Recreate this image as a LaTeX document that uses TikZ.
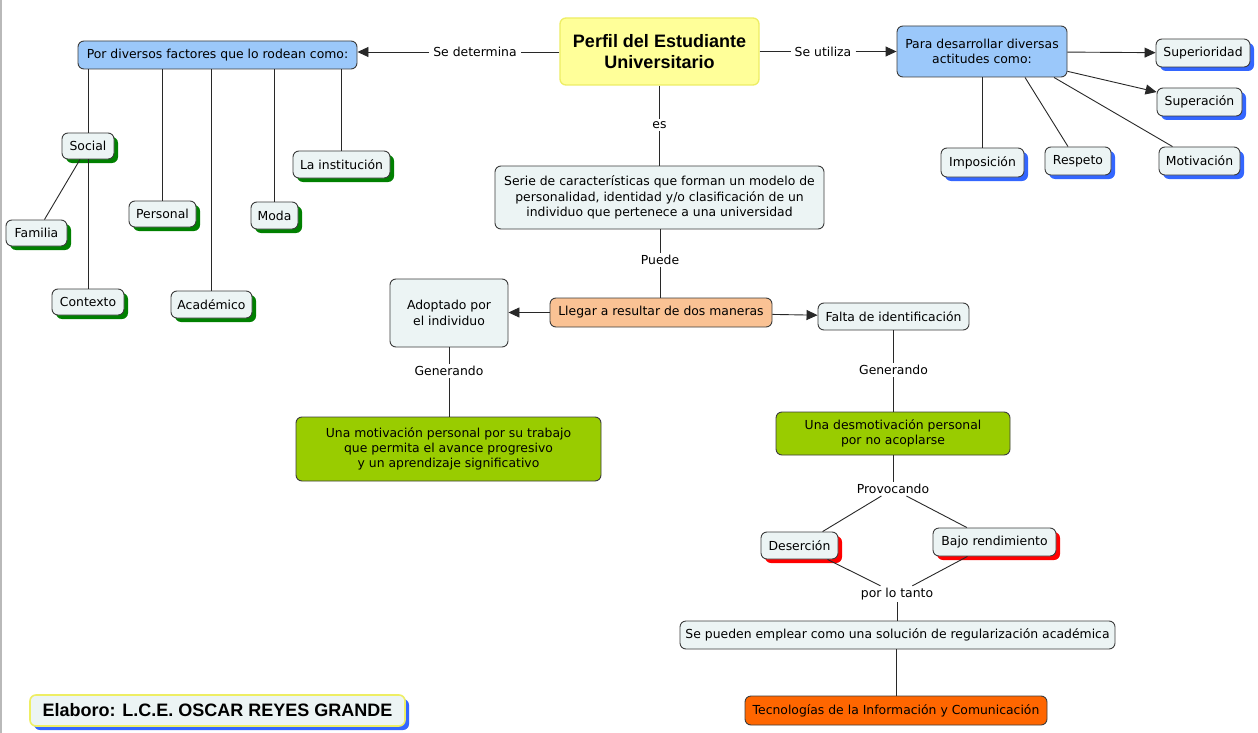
\documentclass[tikz,border=0pt]{standalone}
\usepackage{fontspec}
\setmainfont{DejaVu Sans}
\newfontfamily\titlefont{Liberation Sans}
\usetikzlibrary{arrows.meta,shadows}
\definecolor{bordc}{RGB}{60,60,60}
\definecolor{linec}{RGB}{40,40,40}
\definecolor{lightc}{RGB}{236,244,244}
\definecolor{bluec}{RGB}{155,200,250}
\definecolor{yellowc}{RGB}{255,255,153}
\definecolor{yellowb}{RGB}{238,238,100}
\definecolor{peachc}{RGB}{250,194,148}
\definecolor{greenc}{RGB}{153,204,0}
\definecolor{orangec}{RGB}{255,102,0}
\definecolor{shgreen}{RGB}{0,128,0}
\definecolor{shblue}{RGB}{51,102,255}
\definecolor{shred}{RGB}{255,0,0}
\newcommand\mynfs{\fontsize{12.4}{15.3}\selectfont}
\newcommand\mytfs{\titlefont\bfseries\fontsize{18}{21}\selectfont}
\tikzset{
  base/.style={rounded corners=6pt, line width=0.9pt, draw=bordc, inner sep=0pt, align=center, font=\mynfs, text=black},
  lightbox/.style={base, fill=lightc},
  bluebox/.style={base, fill=bluec},
  peachbox/.style={base, fill=peachc},
  greenbox/.style={base, fill=greenc},
  orangebox/.style={base, fill=orangec},
  titlebox/.style={base, fill=yellowc, draw=yellowb, line width=1.3pt, font=\mytfs},
  gshadow/.style={drop shadow={shadow xshift=4pt, shadow yshift=-4pt, fill=shgreen, opacity=1}},
  bshadow/.style={drop shadow={shadow xshift=4pt, shadow yshift=-4pt, fill=shblue, opacity=1}},
  rshadow/.style={drop shadow={shadow xshift=4pt, shadow yshift=-4pt, fill=shred, opacity=1}},
  lbl/.style={fill=white, inner xsep=4pt, inner ysep=2pt, font=\mynfs},
  conn/.style={draw=linec, line width=0.9pt},
  arr/.style={conn, -{Triangle[length=11pt,width=10pt]}}
}
\begin{document}
\begin{tikzpicture}[x=1pt,y=-1pt]
\useasboundingbox (0,0) rectangle (1258,733);
\fill[white] (0,0) rectangle (1258,733);
\draw[gray!55, line width=1.5pt] (1,0) -- (1,733);

% main nodes
\node[titlebox, minimum width=199pt, minimum height=67pt] (title) at (659.5,51.5) {Perfil del Estudiante\\Universitario};
\node[bluebox, minimum width=279pt, minimum height=28pt] (por) at (217.5,55) {Por diversos factores que lo rodean como:};
\node[bluebox, minimum width=170pt, minimum height=51pt] (para) at (982,51.5) {Para desarrollar diversas\\actitudes como:};

% right side
\node[lightbox, bshadow, minimum width=94pt, minimum height=28pt] (sup1) at (1203,53) {Superioridad};
\node[lightbox, bshadow, minimum width=85pt, minimum height=28pt] (sup2) at (1199.5,102) {Superación};
\node[lightbox, bshadow, minimum width=83pt, minimum height=29pt] (impo) at (982.5,162.5) {Imposición};
\node[lightbox, bshadow, minimum width=66pt, minimum height=28pt] (resp) at (1078,161) {Respeto};
\node[lightbox, bshadow, minimum width=81pt, minimum height=28pt] (moti) at (1199.5,161) {Motivación};

% left side
\node[lightbox, gshadow, minimum width=52pt, minimum height=26pt] (soc) at (88,146) {Social};
\node[lightbox, gshadow, minimum width=61pt, minimum height=26pt] (fam) at (36.5,233) {Familia};
\node[lightbox, gshadow, minimum width=72pt, minimum height=26pt] (ctx) at (88,302) {Contexto};
\node[lightbox, gshadow, minimum width=67pt, minimum height=26pt] (pers) at (162.5,214) {Personal};
\node[lightbox, gshadow, minimum width=81pt, minimum height=27pt] (acad) at (211.5,304.5) {Académico};
\node[lightbox, gshadow, minimum width=47pt, minimum height=27pt] (moda) at (274.5,215.5) {Moda};
\node[lightbox, gshadow, minimum width=97pt, minimum height=27pt] (inst) at (341.5,164.5) {La institución};

% center
\node[lightbox, minimum width=329pt, minimum height=63pt] (serie) at (659.5,197.5) {Serie de características que forman un modelo de\\personalidad, identidad y/o clasificación de un\\individuo que pertenece a una universidad};
\node[peachbox, minimum width=222pt, minimum height=29pt] (llegar) at (661,312.5) {Llegar a resultar de dos maneras};
\node[lightbox, minimum width=118pt, minimum height=68pt] (adop) at (449,313) {Adoptado por\\el individuo};
\node[lightbox, minimum width=151pt, minimum height=27pt] (falta) at (893.5,316.5) {Falta de identificación};
\node[greenbox, minimum width=305pt, minimum height=64pt] (umot) at (448.5,449) {Una motivación personal por su trabajo\\que permita el avance progresivo\\y un aprendizaje significativo};
\node[greenbox, minimum width=234pt, minimum height=43pt] (desm) at (893,433.5) {Una desmotivación personal\\por no acoplarse};
\node[lightbox, rshadow, minimum width=77pt, minimum height=27pt] (des) at (799.5,545.5) {Deserción};
\node[lightbox, rshadow, minimum width=123pt, minimum height=28pt] (bajo) at (994.5,542) {Bajo rendimiento};
\node[lightbox, minimum width=435pt, minimum height=28pt] (sepu) at (897.5,635) {Se pueden emplear como una solución de regularización académica};
\node[orangebox, minimum width=302pt, minimum height=29pt] (tic) at (896,710.5) {Tecnologías de la Información y Comunicación};
\node[lightbox, bshadow, draw=yellowb, line width=1.6pt, font=\mytfs, minimum width=375pt, minimum height=31pt] (elab) at (217.5,710.5) {Elaboro: L.C.E. OSCAR REYES GRANDE};

% labels
\node[lbl] (l1) at (475,52) {Se determina};
\node[lbl] (l2) at (823,51.5) {Se utiliza};
\node[lbl] (l3) at (659.5,125) {es};
\node[lbl] (l4) at (660,260) {Puede};
\node[lbl] (l5) at (449,371) {Generando};
\node[lbl] (l6) at (893.5,370) {Generando};
\node[lbl] (l7) at (893,489) {Provocando};
\node[lbl] (l8) at (897,594) {por lo tanto};

% connectors
\draw[conn] (title.west |- l1) -- (l1);
\draw[arr] (l1) -- (l1 -| por.east);
\draw[conn] (title.east |- l2) -- (l2);
\draw[arr] (l2) -- (l2 -| para.west);
\draw[arr] (para) -- (sup1);
\draw[arr] (para) -- (sup2);
\draw[conn] (impo.north |- para.south) -- (impo.north);
\draw[conn] ([xshift=43pt]para.south) -- ([xshift=-10pt]resp.north);
\draw[conn] ([xshift=72pt]para.south) -- ([xshift=-27pt]moti.north);

\draw[conn] (soc.north |- por.south) -- (soc.north);
\draw[conn] (soc) -- (fam);
\draw[conn] (soc) -- (ctx);
\draw[conn] (pers.north |- por.south) -- (pers.north);
\draw[conn] (acad.north |- por.south) -- (acad.north);
\draw[conn] (moda.north |- por.south) -- (moda.north);
\draw[conn] (inst.north |- por.south) -- (inst.north);

\draw[conn] (title) -- (l3);
\draw[conn] (l3) -- (serie);
\draw[conn] (l4 |- serie.south) -- (l4);
\draw[conn] (l4) -- (l4 |- llegar.north);
\draw[arr] (llegar.west) -- (adop.east |- llegar.west);
\draw[arr] (llegar) -- (falta);
\draw[conn] (adop) -- (l5);
\draw[conn] (l5) -- (l5 |- umot.north);
\draw[conn] (falta) -- (l6);
\draw[conn] (l6) -- (l6 |- desm.north);
\draw[conn] (l7 |- desm.south) -- (l7);
\draw[conn] (l7) -- (des);
\draw[conn] (l7) -- (bajo);
\draw[conn] (des) -- (l8);
\draw[conn] (bajo) -- (l8);
\draw[conn] (l8) -- (l8 |- sepu.north);
\draw[conn] (tic.north |- sepu.south) -- (tic.north);
\end{tikzpicture}
\end{document}
